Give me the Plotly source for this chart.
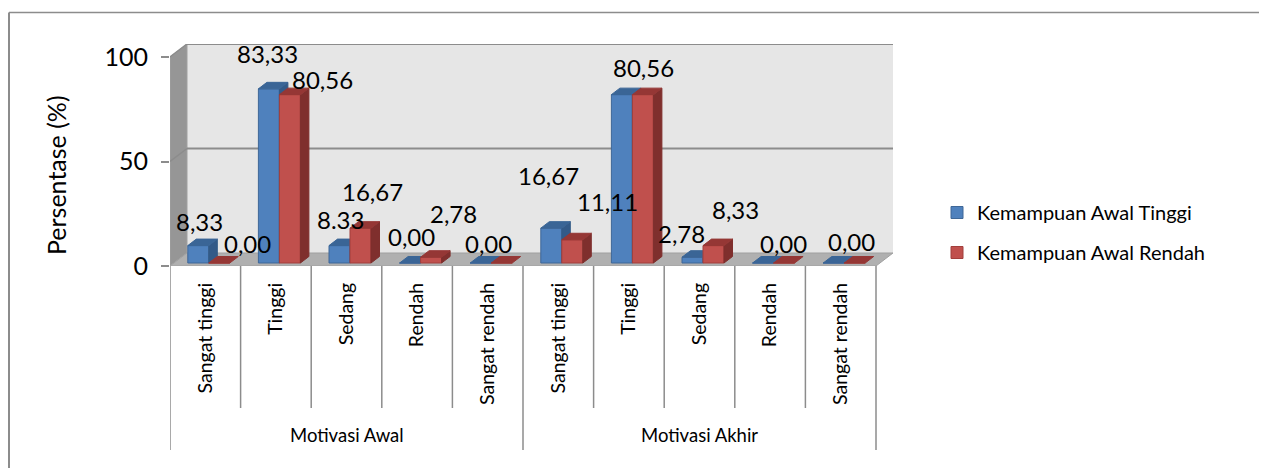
import plotly.graph_objs as go

########### Data ######
categories = ['Sangat tinggi', 'Tinggi', 'Sedang', 'Rendah', 'Sangat rendah',
              'Sangat tinggi', 'Tinggi', 'Sedang', 'Rendah', 'Sangat rendah']
groups = ['Motivasi Awal', 'Motivasi Akhir']
tinggi = [8.33, 83.33, 8.33, 0, 0, 16.67, 80.56, 2.78, 0, 0]
rendah = [0, 80.56, 16.67, 2.78, 0, 11.11, 80.56, 8.33, 0, 0]
y_ticks = [0, 50, 100]

# the labels as they stand in the picture (typed by hand in the original, one has a dot)
label_text = ['8,33', '0,00', '83,33', '80,56', '8.33', '16,67', '0,00', '2,78', '0,00',
              '16,67', '11,11', '80,56', '2,78', '8,33', '0,00', '0,00']
# centre of each label in pixels, the original labels were dragged around
label_x = [199, 247, 267, 322, 340, 372, 411, 453, 488, 548, 607, 643, 681, 735, 783, 851]
label_y = [221, 243, 53, 79, 219, 191, 236, 213, 243, 176, 201, 67, 233, 209, 243, 241]

########### Geometry ######
PAGE = 8  # the page body has a margin, everything lands 8px in
LEFT, RIGHT, TOP, BOTTOM = 170, 893, 44, 266
WIDTH, HEIGHT = 1267 - PAGE, 468 - PAGE
CAT_W = 70.6
UNIT = 2.09  # pixels per percent
WALL_X = 17 / CAT_W
WALL_Y = 13 / UNIT
X_MAX = 10 + WALL_X
Y_MAX = 100 + WALL_Y
BAR_W = 21 / CAT_W
BAR_SHIFT_X = 3.5 / CAT_W
BAR_BASE = 3 / UNIT
DEPTH_X = 8.5 / CAT_W
DEPTH_Y = 6.5 / UNIT

FONT = 'Lato'
GREY = '#8c8c8c'


def paper_x(px):
    return (px - LEFT) / (RIGHT - LEFT)


def paper_y(px):
    return (BOTTOM - px) / (BOTTOM - TOP)


def poly(points):
    return 'M' + ' L'.join(f'{x},{y}' for x, y in points) + ' Z'


def faces(values, left_edge):
    # top and side of every column, in axis units
    top_x, top_y, side_x, side_y = [], [], [], []
    for i, v in enumerate(values):
        x0 = i + left_edge
        x1 = x0 + BAR_W
        y0 = BAR_BASE
        y1 = BAR_BASE + v
        top_x += [x0, x0 + DEPTH_X, x1 + DEPTH_X, x1, x0, None]
        top_y += [y1, y1 + DEPTH_Y, y1 + DEPTH_Y, y1, y1, None]
        if v > 0:
            side_x += [x1, x1 + DEPTH_X, x1 + DEPTH_X, x1, x1, None]
            side_y += [y0, y0 + DEPTH_Y, y1 + DEPTH_Y, y1, y0, None]
    return top_x, top_y, side_x, side_y


def column_traces(name, values, left_edge, front, edge, top, side, xa, ya):
    centres = [i + left_edge + BAR_W / 2 for i in range(len(values))]
    top_x, top_y, side_x, side_y = faces(values, left_edge)
    out = [go.Bar(x=centres, y=values, base=BAR_BASE, width=BAR_W, name=name,
                  legendgroup=name, xaxis=xa, yaxis=ya,
                  marker=dict(color=front, line=dict(color=edge, width=1))),
           go.Scatter(x=side_x, y=side_y, mode='lines', fill='toself', fillcolor=side,
                      line=dict(color=side, width=1), showlegend=False, xaxis=xa, yaxis=ya),
           go.Scatter(x=top_x, y=top_y, mode='lines', fill='toself', fillcolor=top,
                      line=dict(color=top, width=1), showlegend=False, xaxis=xa, yaxis=ya)]
    return out


########### Traces ######
blue_left = 0.5 + BAR_SHIFT_X - BAR_W
red_left = 0.5 + BAR_SHIFT_X
# red sits on an overlay axis so it covers the side of the blue column
data = column_traces('Kemampuan Awal Tinggi', tinggi, blue_left,
                     '#4f81bd', '#3f6797', '#3a6596', '#335a88', 'x', 'y')
data += column_traces('Kemampuan Awal Rendah', rendah, red_left,
                      '#c0504d', '#a23f3c', '#953735', '#7f2f2d', 'x2', 'y2')
fig = go.Figure(data)

########### Walls ######
shapes = [
    dict(type='path', xref='x', yref='y', layer='below', fillcolor='#e6e6e6', line_width=0,
         path=poly([(WALL_X, WALL_Y), (WALL_X, Y_MAX), (X_MAX, Y_MAX), (X_MAX, WALL_Y)])),
    dict(type='path', xref='x', yref='y', layer='below', fillcolor='#969696',
         line=dict(color='#a0a0a0', width=1),
         path=poly([(0, 0), (0, 100), (WALL_X, Y_MAX), (WALL_X, WALL_Y)])),
    dict(type='path', xref='x', yref='y', layer='below', fillcolor='#b0b0b0',
         line=dict(color='#a0a0a0', width=1),
         path=poly([(0, 0), (WALL_X, WALL_Y), (X_MAX, WALL_Y), (10, 0)])),
]
# gridlines run over the back wall and bend down the side wall
for t in y_ticks[1:]:
    shapes.append(dict(type='line', xref='x', yref='y', layer='below', x0=0, y0=t,
                       x1=WALL_X, y1=t + WALL_Y, line=dict(color=GREY, width=1.5)))
    shapes.append(dict(type='line', xref='x', yref='y', layer='below', x0=WALL_X, y0=t + WALL_Y,
                       x1=X_MAX, y1=t + WALL_Y, line=dict(color=GREY, width=2)))
# category separators below the axis
for i in range(11):
    end = 450 if i in (0, 5, 10) else 408
    shapes.append(dict(type='line', xref='x', yref='paper', x0=i, x1=i, y0=paper_y(BOTTOM),
                       y1=paper_y(end), line=dict(color=GREY, width=1.5)))
# grey frame, only top and left are inside the picture
shapes.append(dict(type='line', xref='paper', yref='paper', x0=paper_x(9), x1=paper_x(1267),
                   y0=paper_y(12.5), y1=paper_y(12.5), line=dict(color=GREY, width=1.5)))
shapes.append(dict(type='line', xref='paper', yref='paper', x0=paper_x(9), x1=paper_x(9),
                   y0=paper_y(12.5), y1=paper_y(468), line=dict(color=GREY, width=2)))

########### Text ######
annotations = []
for text, px, py in zip(label_text, label_x, label_y):
    annotations.append(dict(xref='paper', yref='paper', x=paper_x(px), y=paper_y(py),
                            xanchor='center', yanchor='middle', text=text, showarrow=False,
                            font=dict(size=24, color='black')))
for k, group in enumerate(groups):
    annotations.append(dict(xref='x', yref='paper', x=2.5 + 5 * k, y=paper_y(435),
                            xanchor='center', yanchor='middle', text=group, showarrow=False,
                            font=dict(size=18.5, color='black')))
# the title sits lower than the middle of the axis, so not an axis title
annotations.append(dict(xref='paper', yref='paper', x=paper_x(56), y=paper_y(175),
                        xanchor='center', yanchor='middle', text='Persentase (%)', textangle=-90,
                        showarrow=False, font=dict(size=25, color='black')))

fig.update_layout(
    width=WIDTH, height=HEIGHT,
    margin=dict(l=LEFT - PAGE, r=1267 - RIGHT, t=TOP - PAGE, b=468 - BOTTOM),
    paper_bgcolor='white', plot_bgcolor='rgba(0,0,0,0)',
    font=dict(family=FONT, color='black'),
    barmode='overlay', shapes=shapes, annotations=annotations,
    xaxis=dict(range=[0, X_MAX], tickvals=[i + 0.5 for i in range(10)], ticktext=categories,
               tickangle=-90, ticks='', showgrid=False, zeroline=False, showline=False,
               ticklabelstandoff=12, tickfont=dict(size=19.5)),
    yaxis=dict(range=[0, Y_MAX], tickvals=y_ticks, ticks='outside', ticklen=8, tickwidth=1.5,
               tickcolor=GREY, showgrid=False, zeroline=False, showline=False,
               ticklabelstandoff=8, tickfont=dict(size=25)),
    xaxis2=dict(range=[0, X_MAX], overlaying='x', anchor='y2', visible=False),
    yaxis2=dict(range=[0, Y_MAX], overlaying='y', anchor='x2', visible=False),
    legend=dict(xref='paper', yref='paper', x=paper_x(937), y=paper_y(193), xanchor='left',
                yanchor='top', font=dict(size=20), tracegroupgap=11, bgcolor='rgba(0,0,0,0)'),
)

fig.write_html("out.html")
